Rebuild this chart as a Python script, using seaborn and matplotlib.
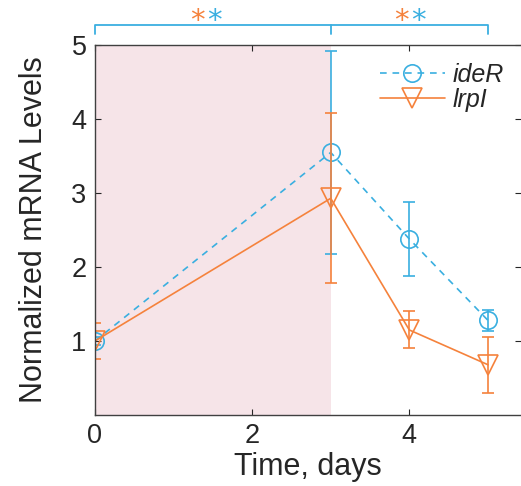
import numpy as np
import matplotlib
matplotlib.use("Agg")
import matplotlib.pyplot as plt
import seaborn as sns

# values
days = [0, 3, 4, 5]
ideR_mean = [1.0, 3.55, 2.38, 1.28]
ideR_err = [0.05, 1.37, 0.50, 0.14]
lrpI_mean = [1.0, 2.93, 1.15, 0.68]
lrpI_err = [0.24, 1.15, 0.25, 0.38]

shade_start, shade_end = 0, 3
bracket_ends = [0, 3, 5]
star_x = [1.41, 4.01]

blue = "#3aafe0"
orange = "#f5823c"
pink = "#f6e4e8"

sns.set_style("ticks")
plt.rcParams['font.family'] = ['Liberation Sans', 'DejaVu Sans']

fig = plt.figure(figsize=(5.21, 4.86), dpi=100)
ax = fig.add_axes([0.182, 0.146, 0.818, 0.761])

ax.axvspan(shade_start, shade_end, color=pink, lw=0, zorder=0)

sns.lineplot(x=days, y=ideR_mean, ax=ax, color=blue, linestyle=(0, (4, 3.5)), lw=1.2,
             marker='o', markersize=12.5, markerfacecolor='none', markeredgecolor=blue,
             markeredgewidth=1.2, label='ideR')
ax.errorbar(days, ideR_mean, yerr=ideR_err, fmt='none', ecolor=blue, elinewidth=1.2,
            capsize=4.5, capthick=1.2)

sns.lineplot(x=days, y=lrpI_mean, ax=ax, color=orange, lw=1.2,
             marker='v', markersize=15, markerfacecolor='none', markeredgecolor=orange,
             markeredgewidth=1.2, label='lrpI')
ax.errorbar(days, lrpI_mean, yerr=lrpI_err, fmt='none', ecolor=orange, elinewidth=1.2,
            capsize=4.5, capthick=1.2)

ax.set_xlim(0, 5.42)
ax.set_ylim(0, 5)
ax.set_xticks([0, 2, 4])
ax.set_yticks([1, 2, 3, 4, 5])
ax.tick_params(direction='in', top=True, right=True, length=4, width=0.8,
               labelsize=19.5, colors='#262626', pad=6)
for side in ['left', 'bottom', 'top']:
    ax.spines[side].set_color('#404040')
    ax.spines[side].set_linewidth(1.0)
ax.spines['right'].set_visible(False)

ax.set_xlabel('Time, days', fontsize=22, color='#262626', labelpad=2)
ax.set_ylabel('Normalized mRNA Levels', fontsize=22, color='#262626', labelpad=16)

# significance bracket above the axes
ax.plot([bracket_ends[0], bracket_ends[0], bracket_ends[2], bracket_ends[2]],
        [5.15, 5.27, 5.27, 5.15], color=blue, lw=1.3, clip_on=False)
ax.plot([bracket_ends[1], bracket_ends[1]], [5.15, 5.27], color=blue, lw=1.3, clip_on=False)
for sx in star_x:
    ax.text(sx - 0.11, 5.33, '*', color=orange, fontsize=21, family='DejaVu Sans',
            ha='center', va='center', clip_on=False)
    ax.text(sx + 0.11, 5.33, '*', color=blue, fontsize=21, family='DejaVu Sans',
            ha='center', va='center', clip_on=False)

leg = ax.legend(loc='upper right', frameon=False, fontsize=18, handlelength=2.6,
                handletextpad=0.3, labelspacing=0.05, borderaxespad=0.3,
                bbox_to_anchor=(1.0, 1.0))
for t in leg.get_texts():
    t.set_fontstyle('italic')

plt.savefig("out.png", dpi=100)
